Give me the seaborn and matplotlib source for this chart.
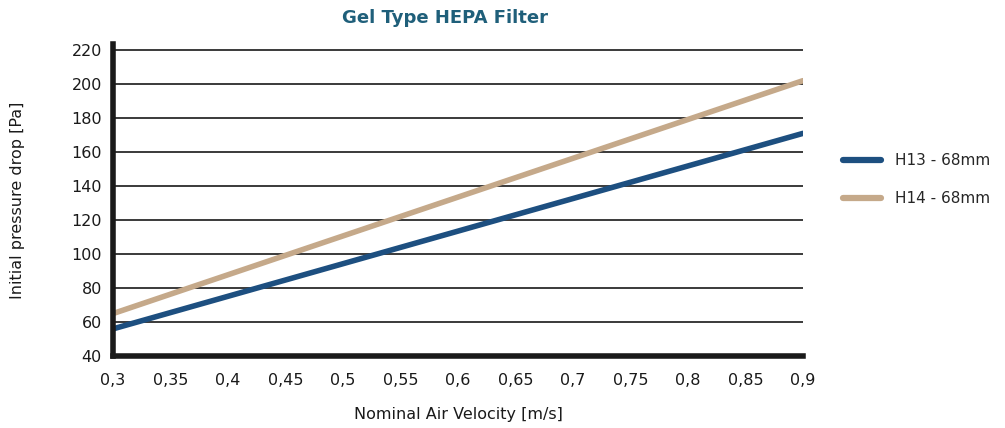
import seaborn as sns
import matplotlib.pyplot as plt
import pandas as pd

# data
velocity = [0.3, 0.9]
h13 = [56, 171]
h14 = [65, 202]
series_names = ["H13 - 68mm", "H14 - 68mm"]
x_ticks = [0.3, 0.35, 0.4, 0.45, 0.5, 0.55, 0.6, 0.65, 0.7, 0.75, 0.8, 0.85, 0.9]
y_ticks = [40, 60, 80, 100, 120, 140, 160, 180, 200, 220]

df = pd.DataFrame({
    "velocity": velocity * 2,
    "drop": h13 + h14,
    "series": [series_names[0]] * 2 + [series_names[1]] * 2,
})

sns.set_theme(style="white")
plt.rcParams['font.family'] = ['DejaVu Sans']

fig = plt.figure(figsize=(10.05, 4.28), dpi=100)
ax = fig.add_axes([0.1124, 0.168, 0.799 - 0.1124, 0.729])

palette = {series_names[0]: "#1d4f80", series_names[1]: "#c5a98a"}
sns.lineplot(data=df, x="velocity", y="drop", hue="series", palette=palette,
             linewidth=4, ax=ax, legend=True)

ax.set_xlim(0.3, 0.9)
ax.set_ylim(40, 223.5)
ax.set_xticks(x_ticks)
ax.set_xticklabels([f"{t:g}".replace(".", ",") for t in x_ticks])
ax.set_yticks(y_ticks)
ax.set_yticklabels([str(t) for t in y_ticks])
ax.tick_params(axis="both", labelsize=11.5, colors="#1a1a1a", length=0)
ax.tick_params(axis="x", pad=12)
ax.tick_params(axis="y", pad=8)

for t in y_ticks[1:]:
    ax.axhline(t, color="#3a3a3a", linewidth=1.4, zorder=0)

for s in ["top", "right"]:
    ax.spines[s].set_visible(False)
ax.spines["left"].set_linewidth(4)
ax.spines["bottom"].set_linewidth(4)
ax.spines["left"].set_color("#1a1a1a")
ax.spines["bottom"].set_color("#1a1a1a")

ax.set_xlabel("Nominal Air Velocity [m/s]", fontsize=11.5, labelpad=14, color="#1a1a1a")
ax.set_ylabel("Initial pressure drop [Pa]", fontsize=11.5, color="#1a1a1a")
ax.yaxis.set_label_coords(-0.127, 0.5)
fig.text(445 / 1005, 1 - 18 / 428, "Gel Type HEPA Filter", fontsize=13, fontweight="bold",
         color="#1f5f7a", ha="center", va="center")

leg = ax.legend(loc="upper left", bbox_to_anchor=(0.839, 0.642), bbox_transform=fig.transFigure,
                frameon=False, fontsize=11, handlelength=2.5, handletextpad=0.9,
                labelspacing=1.5, borderaxespad=0, borderpad=0)
for line in leg.get_lines():
    line.set_linewidth(4.5)
    line.set_solid_capstyle("round")

fig.savefig("out.png", dpi=100)
